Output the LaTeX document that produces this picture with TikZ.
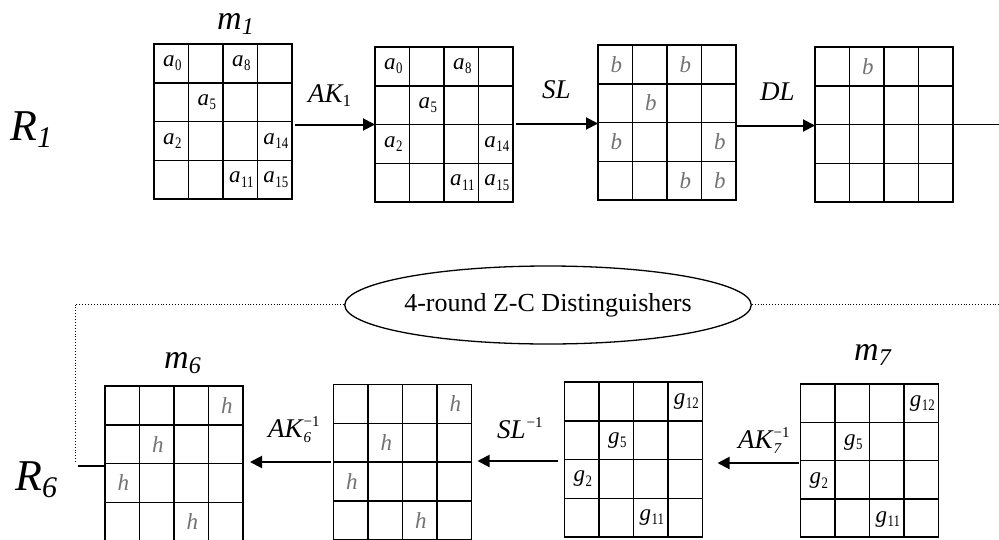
\documentclass[tikz,border=0pt]{standalone}
\usepackage{fontspec}
\setmainfont{Liberation Serif}
\usetikzlibrary{calc,arrows.meta,shapes.geometric}
\tikzset{
  x=1pt, y=-1pt,
  mat/.style={draw, line width=1.5pt, minimum width=138pt, minimum height=155pt, inner sep=0pt, outer sep=0pt},
  arr/.style={line width=2pt, -{Triangle[length=12pt,width=12pt]}},
  opl/.style={font=\fontsize{27}{27}\selectfont\itshape, inner sep=0pt, anchor=base west},
  rnd/.style={font=\fontsize{44}{44}\selectfont\itshape, inner sep=0pt, anchor=base west},
  mlab/.style={font=\fontsize{34}{34}\selectfont\itshape, inner sep=0pt, anchor=base west},
  celltxt/.style={font=\fontsize{23}{23}\selectfont, inner sep=0pt},
  graytxt/.style={celltxt, text=black!55},
  dotl/.style={line width=0.9pt, dotted},
}
\newcommand\cellgrid[1]{%
  \foreach \i in {1,2,3}{%
    \draw[line width=1.5pt] ($(#1.north west)!\i/4!(#1.north east)$) -- ($(#1.south west)!\i/4!(#1.south east)$);
    \draw[line width=1.5pt] ($(#1.north west)!\i/4!(#1.south west)$) -- ($(#1.north east)!\i/4!(#1.south east)$);
  }}
\newcommand\putc[5][celltxt]{\node[#1] at ($(#2.north west)+({(#3+0.5)*34.5+1},{(#4+0.5)*38.75})$) {#5};}
\newcommand\lab[2]{\textit{#1}\kern0.5pt\raisebox{-0.4ex}{\scalebox{0.8}[1]{\fontsize{16}{16}\selectfont #2}}}
\newcommand\ssb[2]{\raisebox{-0.35ex}{\fontsize{#1}{#1}\selectfont #2}}
\newcommand\supsub[2]{\kern1pt\rlap{\raisebox{-0.45ex}{\fontsize{15}{15}\selectfont\itshape #2}}\raisebox{0.85ex}{\fontsize{15}{15}\selectfont\upshape −1}}
\begin{document}
\begin{tikzpicture}
\useasboundingbox (0,0) rectangle (999,539);
% ---------- top row ----------
\node[rnd] (r1) at (10,140) {R\ssb{30}{1}};
\node[mat] (g1) at (223,121.5) {};
\node[mat] (g2) at (444,124.5) {};
\node[mat] (g3) at (667,122.5) {};
\node[mat] (g4) at (884,124.5) {};
\foreach \g in {g1,g2,g3,g4} {\cellgrid{\g}}
\node[mlab] (m1) at (217,29) {m\ssb{24}{1}};
\foreach \g in {g1,g2}{
  \putc{\g}{0}{0}{\lab{a}{0}}
  \putc{\g}{2}{0}{\lab{a}{8}}
  \putc{\g}{1}{1}{\lab{a}{5}}
  \putc{\g}{0}{2}{\lab{a}{2}}
  \putc{\g}{3}{2}{\lab{a}{14}}
  \putc{\g}{2}{3}{\lab{a}{11}}
  \putc{\g}{3}{3}{\lab{a}{15}}
}
\foreach \c/\r in {0/0,2/0,1/1,0/2,3/2,2/3,3/3}{\putc[graytxt]{g3}{\c}{\r}{\textit{b}}}
\putc[graytxt]{g4}{1}{0}{\textit{b}}
\draw[arr] ([yshift=-3pt]g1.east) ++(3,0) -- ([yshift=-3pt]g1.east -| g2.west);
\draw[arr] ([xshift=3pt,yshift=1pt]g2.east) -- ([yshift=1pt]g2.east -| g3.west);
\draw[arr] ([yshift=-3pt]g3.east) -- ([yshift=-3pt]g3.east -| g4.west);
\node[opl] (lak1) at (308,102) {AK\ssb{17}{\upshape 1}};
\node[opl] (lsl) at (542,98) {SL};
\node[opl] (ldl) at (760,100) {DL};
\coordinate (e1) at (999,125);
\draw[line width=1.5pt] (g4.east) -- (g4.east -| e1);
% ---------- bottom row ----------
\node[ellipse, draw, line width=1.3pt, minimum width=390pt, minimum height=78pt, inner sep=0pt,
      font=\fontsize{26}{26}\selectfont] (zc) at (548,305) {4-round Z-C Distinguishers};
\coordinate (d1) at (75,304);
\coordinate (d2) at (75,464);
\coordinate (d3) at (999,304);
\draw[dotl] (zc.west |- d1) -- (d1) -- (d2);
\draw[dotl] (zc.east |- d3) -- (d3);
\node[rnd] (r6) at (15,490) {R\ssb{30}{6}};
\node[mat] (m6) at (174,463.5) {};
\node[mat] (g5) at (402.5,462) {};
\node[mat, minimum height=155pt] (g6) at (633.5,459.5) {};
\node[mat, minimum height=153pt] (m7) at (869.5,460.5) {};
\foreach \g in {m6,g5,g6,m7} {\cellgrid{\g}}
\node[mlab] (lm6) at (164,368) {m\ssb{24}{6}};
\node[mlab] (lm7) at (854,360) {m\ssb{24}{7}};
\foreach \g in {m6,g5}{
  \foreach \c/\r in {3/0,1/1,0/2,2/3}{\putc[graytxt]{\g}{\c}{\r}{\textit{h}}}
}
\foreach \g in {g6,m7}{
  \putc{\g}{3}{0}{\lab{g}{12}}
  \putc{\g}{1}{1}{\lab{g}{5}}
  \putc{\g}{0}{2}{\lab{g}{2}}
  \putc{\g}{2}{3}{\lab{g}{11}}
}
\coordinate (s1) at (78,466);
\draw[line width=1.5pt] (s1) -- (s1 -| m6.west);
\draw[arr, shorten >=7pt] ([xshift=-3pt]g5.west) -- (g5.west -| m6.east);
\draw[arr, shorten >=6pt] ([xshift=-7pt,yshift=-1.5pt]g6.west) -- ([yshift=-1.5pt]g6.west -| g5.east);
\draw[arr, shorten >=15pt] ([xshift=-2pt,yshift=-2.5pt]m7.west) -- ([yshift=-2.5pt]m7.west -| g6.east);
\node[opl] (lak6) at (268,437) {AK\supsub{-1}{6}};
\node[opl] (lsl6) at (497,438) {SL\supsub{-1}{}};
\node[opl] (lak7) at (738,448) {AK\supsub{-1}{7}};
\end{tikzpicture}
\end{document}
